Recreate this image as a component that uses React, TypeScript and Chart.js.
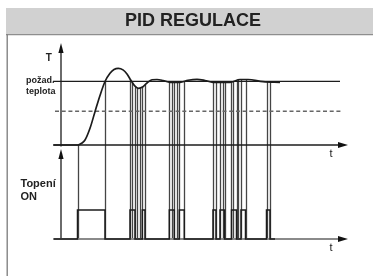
import { useEffect, useRef } from 'react';
import { Chart, registerables } from 'chart.js';

Chart.register(...registerables);

// ---- data (time in arbitrary units, temperature in % of setpoint, heater 0/1) ----
const curveTime = [-7, 17, 21, 24, 29, 34, 39, 44, 49, 53, 57.3, 62, 66, 70, 74, 77.5, 82, 86, 91, 96, 102, 109, 119, 127, 136, 144, 152, 169, 179, 187, 202, 219];
const curveTemp = [0, 0, 3.1, 7.8, 26.2, 52.3, 77.7, 99.7, 112.6, 118.5, 120.4, 118, 111.5, 101.3, 92.3, 89, 91.5, 97.3, 102.4, 102.8, 101.3, 98.4, 98.4, 101.6, 103.1, 101.3, 98.4, 98.4, 102.8, 102.8, 99.4, 98.4];

const setpointTemp = 100;
const thresholdTemp = 53;

const heaterTime = [-7, 16.5, 44, 69, 74, 81.3, 84, 108.3, 113.3, 118.3, 123.3, 152, 155, 159, 163.5, 170.5, 175.5, 180, 184.5, 205.5, 209, 214];
const heaterState = [0, 1, 0, 1, 0, 1, 0, 1, 0, 1, 0, 1, 0, 1, 0, 1, 0, 1, 0, 1, 0, 0];

const switchTime = [16.5, 44, 69, 71.3, 74, 76.3, 79, 81.3, 84, 108.3, 110.7, 113.3, 115.7, 118.3, 123.3, 152, 155, 159, 161.7, 163.5, 170.5, 172.3, 175.5, 177.3, 180, 184.5, 205.5, 209];
const switchTop = [0, 99.5, 103, 98, 92, 89.5, 89.2, 91, 94.5, 98.4, 98.2, 98.2, 98.2, 98.4, 99.8, 98.4, 98.4, 98.4, 98.4, 98.4, 98.5, 99.5, 101.2, 102.2, 102.6, 102.6, 99, 98.7];

// ---- layout constants ----
const W = 373;
const H = 277;
const AREA_TOP = 36.6;
const AREA_BOTTOM = 277;
const FONT = '"Liberation Sans", Arial, Helvetica, sans-serif';

function rangeFor(zeroPx: number, pxPerUnit: number) {
  const min = -(AREA_BOTTOM - zeroPx) / pxPerUnit;
  const max = min + (AREA_BOTTOM - AREA_TOP) / pxPerUnit;
  return { min, max };
}
const tempRange = rangeFor(145, 0.637);
const heatRange = rangeFor(239, 29);

const pts = (xs: number[], ys: number[]) => xs.map((x, i) => ({ x, y: ys[i] }));

const INK = '#1c1c1c';

const decorPlugin = {
  id: 'decor',
  beforeDraw(chart: any) {
    const ctx = chart.ctx;
    ctx.save();
    ctx.fillStyle = '#ffffff';
    ctx.fillRect(0, 0, W, H);
    ctx.fillStyle = '#d1d1d1';
    ctx.fillRect(6, 8, W - 6, 27);
    ctx.strokeStyle = '#8e8e8e';
    ctx.lineWidth = 1.3;
    ctx.beginPath();
    ctx.moveTo(6, 34.6);
    ctx.lineTo(W, 34.6);
    ctx.stroke();
    ctx.strokeStyle = '#7a7a7a';
    ctx.beginPath();
    ctx.moveTo(7.2, 34.6);
    ctx.lineTo(7.2, 276);
    ctx.stroke();
    ctx.restore();
  },
  beforeDatasetsDraw(chart: any) {
    const ctx = chart.ctx;
    const xs = chart.scales.x;
    const ys = chart.scales.y;
    const hs = chart.scales.y2;
    ctx.save();
    ctx.lineWidth = 1.3;
    ctx.strokeStyle = '#454545';
    switchTime.forEach((t, i) => {
      const px = Math.round(xs.getPixelForValue(t)) + 0.5;
      ctx.beginPath();
      ctx.moveTo(px, ys.getPixelForValue(switchTop[i]));
      ctx.lineTo(px, hs.getPixelForValue(0));
      ctx.stroke();
    });
    ctx.restore();
  },
  afterDatasetsDraw(chart: any) {
    const ctx = chart.ctx;
    ctx.save();
    chart.data.datasets.forEach((ds: any, i: number) => {
      if (!ds.arrow) return;
      const data = chart.getDatasetMeta(i).data;
      const a = data[data.length - 2];
      const b = data[data.length - 1];
      const dx = b.x - a.x;
      const dy = b.y - a.y;
      const len = Math.hypot(dx, dy) || 1;
      const ux = dx / len;
      const uy = dy / len;
      const L = 10;
      const hw = ds.arrowHalf || 3;
      ctx.fillStyle = '#111';
      ctx.beginPath();
      ctx.moveTo(b.x + ux * L, b.y + uy * L);
      ctx.lineTo(b.x - uy * hw, b.y + ux * hw);
      ctx.lineTo(b.x + uy * hw, b.y - ux * hw);
      ctx.closePath();
      ctx.fill();
    });

    ctx.fillStyle = '#222';
    ctx.textBaseline = 'middle';
    ctx.textAlign = 'center';
    ctx.font = `bold 10px ${FONT}`;
    ctx.fillText('T', 48.7, 58.5);
    ctx.textAlign = 'left';
    ctx.font = `bold 9px ${FONT}`;
    ctx.fillText('požad.', 26, 80.5);
    ctx.fillText('teplota', 26, 92);
    ctx.font = `bold 11px ${FONT}`;
    ctx.fillText('Topení', 20.5, 183.5);
    ctx.fillText('ON', 20.5, 197);
    ctx.textAlign = 'center';
    ctx.font = `11px ${FONT}`;
    ctx.fillText('t', 331, 154);
    ctx.fillText('t', 331, 248);
    ctx.restore();
  },
};

export default function App() {
  const ref = useRef<HTMLCanvasElement>(null);
  useEffect(() => {
    if (!ref.current) return;
    const chart = new Chart(ref.current, {
      type: 'line',
      data: {
        datasets: [
          {
            label: 'Teplota',
            data: pts(curveTime, curveTemp),
            yAxisID: 'y',
            borderColor: INK,
            borderWidth: 1.7,
            cubicInterpolationMode: 'monotone',
            pointRadius: 0,
          },
          {
            label: 'Topení',
            data: pts(heaterTime, heaterState),
            yAxisID: 'y2',
            borderColor: INK,
            borderWidth: 1.5,
            stepped: true,
            pointRadius: 0,
          },
          {
            label: 'požad. teplota',
            data: [{ x: -8, y: setpointTemp }, { x: 279, y: setpointTemp }],
            yAxisID: 'y',
            borderColor: INK,
            borderWidth: 1.3,
            pointRadius: 0,
          },
          {
            label: 'mez',
            data: [{ x: -6, y: thresholdTemp }, { x: 281, y: thresholdTemp }],
            yAxisID: 'y',
            borderColor: '#666',
            borderWidth: 1.3,
            borderDash: [4, 2.7],
            pointRadius: 0,
          },
          {
            label: 'osa t',
            data: [{ x: -8, y: 0 }, { x: 277, y: 0 }],
            yAxisID: 'y',
            borderColor: INK,
            borderWidth: 1.5,
            pointRadius: 0,
            arrow: true,
          },
          {
            label: 'osa T',
            data: [{ x: 0, y: -2.5 }, { x: 0, y: 144.4 }],
            yAxisID: 'y',
            borderColor: INK,
            borderWidth: 1.3,
            pointRadius: 0,
            arrow: true,
            arrowHalf: 2.6,
          },
          {
            label: 'osa t2',
            data: [{ x: -8, y: 0 }, { x: 277, y: 0 }],
            yAxisID: 'y2',
            borderColor: '#8a8a8a',
            borderWidth: 2,
            pointRadius: 0,
            arrow: true,
          },
          {
            label: 'osa ON',
            data: [{ x: 0, y: 0 }, { x: 0, y: 2.76 }],
            yAxisID: 'y2',
            borderColor: INK,
            borderWidth: 1.3,
            pointRadius: 0,
            arrow: true,
            arrowHalf: 2.6,
          },
        ] as any,
      },
      options: {
        responsive: false,
        animation: false,
        devicePixelRatio: 1,
        layout: { padding: { top: 8, left: 13, right: 0, bottom: 0 } },
        plugins: {
          legend: { display: false },
          tooltip: { enabled: false },
          title: {
            display: true,
            text: 'PID REGULACE',
            color: '#222',
            font: { family: FONT, size: 18, weight: 'bold', lineHeight: 1.2 },
            padding: { top: 2, bottom: 5 },
          },
        },
        scales: {
          x: { type: 'linear', min: -48, max: 312, display: false, bounds: 'data' },
          y: { type: 'linear', min: tempRange.min, max: tempRange.max, display: false, bounds: 'data' },
          y2: { type: 'linear', min: heatRange.min, max: heatRange.max, display: false, bounds: 'data' },
        },
      } as any,
      plugins: [decorPlugin],
    });
    return () => chart.destroy();
  }, []);
  return (
    <div style={{ position: 'fixed', left: 0, top: 0, width: W, height: H, background: '#fff' }}>
      <canvas ref={ref} width={W} height={H} style={{ display: 'block', width: W, height: H }} />
    </div>
  );
}
